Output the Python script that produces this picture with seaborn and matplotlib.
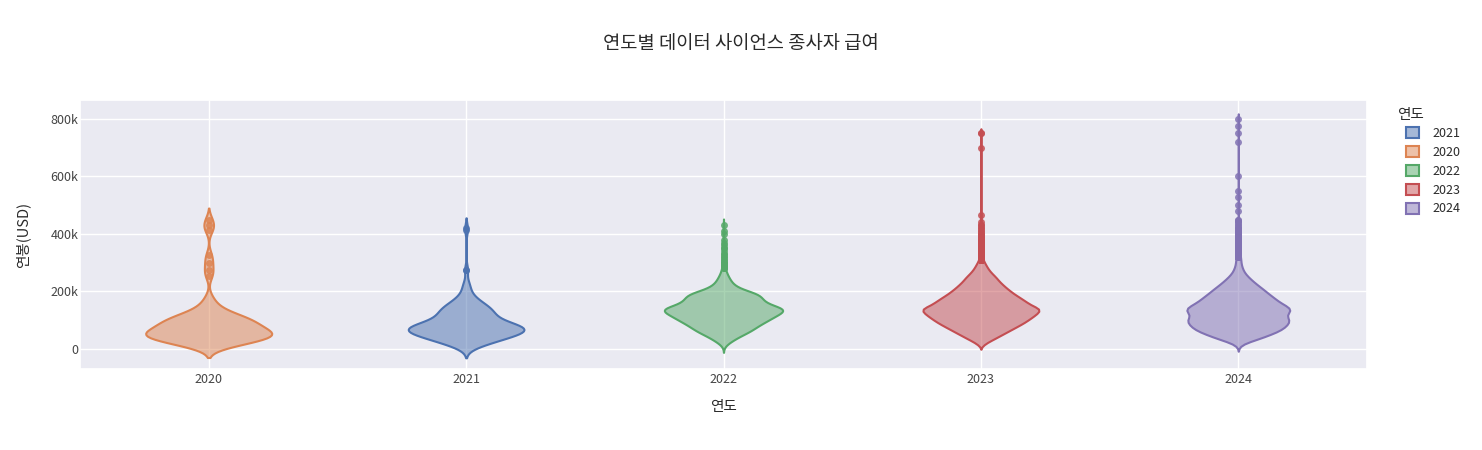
import numpy as np
import pandas as pd
import matplotlib
matplotlib.use("Agg")
import matplotlib.pyplot as plt
import matplotlib.colors as mcolors
from matplotlib.patches import Patch
from matplotlib.ticker import FuncFormatter
import seaborn as sns

# salary levels (thousand USD) and how many workers sit at each level
YEARS = ["2020", "2021", "2022", "2023", "2024"]
LEGEND_ORDER = ["2021", "2020", "2022", "2023", "2024"]

salary_2020 = [10, 20, 30, 40, 50, 60, 70, 80, 90, 100, 110, 120, 130, 140, 150, 160, 180,
               255, 275, 300, 325, 415, 430, 450]
count_2020 = [3, 4, 5, 7, 9, 6, 5, 5, 5, 5, 4, 3, 2, 1, 1, 1, 1,
              1, 1, 1, 1, 1, 1, 1]

salary_2021 = [5, 15, 25, 35, 45, 55, 65, 75, 85, 95, 105, 115, 125, 135, 145, 155, 165,
               175, 185, 200, 215, 230, 275, 415, 420]
count_2021 = [3, 6, 9, 12, 15, 18, 22, 22, 16, 12, 9, 9, 9, 9, 8, 6, 5,
              3, 3, 2, 2, 2, 2, 1, 1]

salary_2022 = [10, 20, 30, 40, 50, 60, 70, 80, 90, 100, 110, 120, 130, 140, 150, 160, 170,
               180, 190, 200, 210, 220, 230, 240, 250, 260, 270,
               280, 290, 300, 310, 320, 330, 340, 350, 360, 370, 380, 400, 410, 430]
count_2022 = [2, 10, 18, 27, 38, 50, 58, 65, 75, 85, 94, 104, 114, 124, 92, 80, 74,
              72, 70, 50, 30, 22, 16, 13, 10, 7, 5,
              3, 3, 3, 2, 2, 2, 1, 2, 1, 1, 1, 1, 1, 1]

salary_2023 = [15, 20, 30, 40, 50, 60, 70, 80, 90, 100, 110, 120, 130, 140, 150, 160, 170,
               180, 190, 200, 210, 220, 230, 240, 250, 260, 270, 280, 290, 300,
               310, 320, 330, 340, 350, 360, 370, 380, 390, 400, 410, 420, 430, 440,
               465, 700, 750]
count_2023 = [15, 40, 100, 150, 200, 250, 300, 350, 400, 440, 480, 515, 550, 560, 480, 440, 400,
              360, 315, 280, 245, 215, 185, 160, 140, 110, 85, 65, 50, 35,
              20, 15, 12, 10, 8, 6, 5, 4, 3, 3, 2, 2, 2, 1,
              1, 1, 2]

salary_2024 = [10, 20, 30, 40, 50, 60, 70, 80, 90, 100, 110, 120, 130, 140, 150, 160, 170,
               180, 190, 200, 210, 220, 230, 240, 250, 260, 270, 280, 290, 300,
               310, 320, 330, 340, 350, 360, 370, 380, 390, 400, 410, 420, 430, 440, 450,
               480, 500, 530, 550, 600, 720, 750, 775, 800]
count_2024 = [12, 48, 120, 184, 240, 296, 336, 360, 380, 388, 368, 360, 392, 400, 360, 320, 288,
              264, 232, 208, 180, 152, 124, 100, 76, 56, 40, 32, 24, 20,
              20, 16, 14, 12, 10, 8, 7, 6, 5, 4, 3, 3, 2, 2, 2,
              1, 1, 1, 1, 1, 1, 1, 1, 1]

salaries = {"2020": salary_2020, "2021": salary_2021, "2022": salary_2022,
            "2023": salary_2023, "2024": salary_2024}
counts = {"2020": count_2020, "2021": count_2021, "2022": count_2022,
          "2023": count_2023, "2024": count_2024}

# kde bandwidth (thousand USD) and drawn width per violin
BANDWIDTH = {"2020": 20, "2021": 18, "2022": 11, "2023": 8, "2024": 9}
WIDTH = {"2020": 0.49, "2021": 0.45, "2022": 0.46, "2023": 0.45, "2024": 0.40}

deep = sns.color_palette("deep")
COLORS = {"2020": deep[1], "2021": deep[0], "2022": deep[2], "2023": deep[3], "2024": deep[4]}

df = pd.concat(
    [pd.DataFrame({"연도": yr, "연봉": np.repeat(salaries[yr], counts[yr])}) for yr in YEARS],
    ignore_index=True,
)

sns.set_theme(style="darkgrid")
plt.rcParams["font.family"] = ["Noto Sans CJK KR", "DejaVu Sans"]
TEXT = "#2a2a2a"
TICK = "#444444"

fig = plt.figure(figsize=(14.82, 4.5), dpi=100)
ax = fig.add_axes([80 / 1482, 81 / 450, 1287 / 1482, 269 / 450])

for yr in YEARS:
    sub = df[df["연도"] == yr]
    vals = sub["연봉"].to_numpy(dtype=float)
    c = COLORS[yr]
    n_before = len(ax.collections)
    sns.violinplot(data=sub, x="연도", y="연봉", order=YEARS, color=c, linecolor=c,
                   saturation=1, inner=None, cut=2, width=WIDTH[yr], density_norm="width",
                   bw_method=BANDWIDTH[yr] / vals.std(ddof=1), linewidth=1.5, ax=ax)
    for coll in ax.collections[n_before:]:
        coll.set_facecolor(mcolors.to_rgba(c, 0.5))
        coll.set_edgecolor(c)

    # outliers beyond the 1.5 IQR fences, drawn as points like plotly
    q1, q3 = np.percentile(vals, [25, 75])
    fence_hi = q3 + 1.5 * (q3 - q1)
    fence_lo = q1 - 1.5 * (q3 - q1)
    out = sub[(sub["연봉"] > fence_hi) | (sub["연봉"] < fence_lo)]
    sns.stripplot(data=out, x="연도", y="연봉", order=YEARS, color=c, jitter=False,
                  size=5, alpha=0.85, linewidth=0, ax=ax)

ax.set_xlim(-0.5, 4.5)
ax.set_ylim(-70, 866)
ax.set_yticks([0, 200, 400, 600, 800])
ax.yaxis.set_major_formatter(FuncFormatter(lambda v, _: "0" if v == 0 else f"{v:g}k"))
ax.grid(True, color="white", linewidth=1)
ax.tick_params(axis="both", length=0, labelsize=9, colors=TICK)
ax.tick_params(axis="y", pad=1)
ax.tick_params(axis="x", pad=3)
ax.set_xlabel("연도", fontsize=10.5, color=TEXT, labelpad=10)
ax.set_ylabel("연봉(USD)", fontsize=10.5, color=TEXT, labelpad=15)

fig.text(0.5, 1 - 43 / 450, "연도별 데이터 사이언스 종사자 급여", ha="center", va="center",
         fontsize=13.5, color=TEXT)

# legend: title flush left, entries indented like plotly
fig.text(1397 / 1482, 1 - 115 / 450, "연도", ha="left", va="center", fontsize=10.5, color=TEXT)
handles = [Patch(facecolor=mcolors.to_rgba(COLORS[yr], 0.5), edgecolor=COLORS[yr],
                 linewidth=1.5, label=yr) for yr in LEGEND_ORDER]
leg = fig.legend(handles=handles, loc="upper left",
                 bbox_to_anchor=(1406 / 1482, 1 - 127 / 450), frameon=False,
                 fontsize=9, handlelength=1.0, handleheight=1.0, borderpad=0,
                 borderaxespad=0, labelspacing=0.47, handletextpad=1.1)
for t in leg.get_texts():
    t.set_color(TEXT)

fig.savefig("out.png", dpi=100)
